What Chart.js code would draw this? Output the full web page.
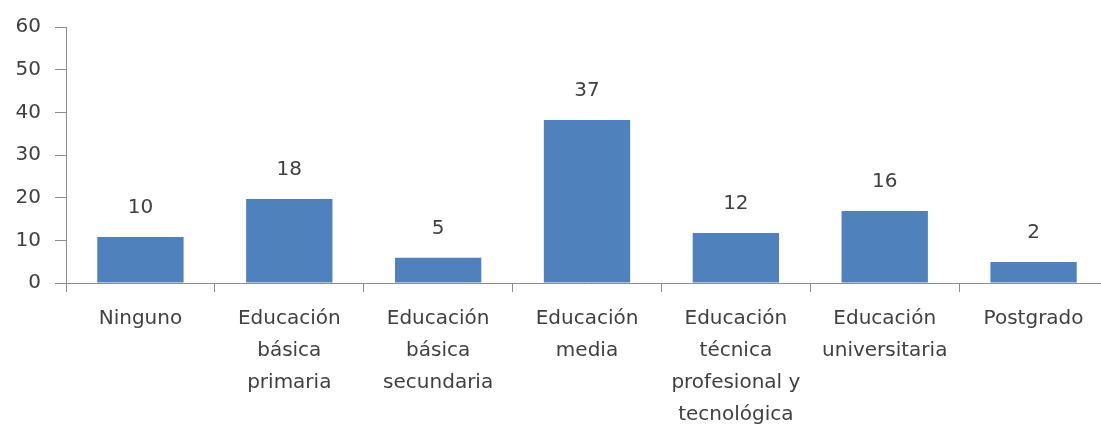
<!DOCTYPE html>
<html>
<head>
<meta charset="utf-8">
<script src="https://cdn.jsdelivr.net/npm/chart.js@4"></script>
<style>
  html, body { margin: 0; padding: 0; background: #fff; overflow: hidden; }
  #wrap { width: 1101px; height: 426px; overflow: hidden; position: relative; }
  #box { position: absolute; left: 0; top: 0; width: 1108px; height: 426px; }
</style>
</head>
<body>
<div id="wrap"><div id="box"><canvas id="chart"></canvas></div></div>
<script>
// categorías (nivel educativo), una línea por elemento
const categories = [
    ['Ninguno'],
    ['Educación', 'básica', 'primaria'],
    ['Educación', 'básica', 'secundaria'],
    ['Educación', 'media'],
    ['Educación', 'técnica', 'profesional y', 'tecnológica'],
    ['Educación', 'universitaria'],
    ['Postgrado']
];
// altura de las barras tal como se ven en la imagen
const barValues = [10.8, 19.7, 5.9, 38.2, 11.7, 16.9, 4.9];
// etiquetas escritas encima de cada barra
const labelValues = [10, 18, 5, 37, 12, 16, 2];
const yTicks = [0, 10, 20, 30, 40, 50, 60];

const textColor = '#404040';
const axisColor = '#8c8c8c';
const fontFamily = '"DejaVu Sans", sans-serif';

// dibuja las etiquetas de valor sobre las barras
const valueLabels = {
    id: 'valueLabels',
    afterDatasetsDraw(chart) {
        const ctx = chart.ctx;
        const meta = chart.getDatasetMeta(0);
        ctx.save();
        ctx.fillStyle = textColor;
        ctx.font = '20px ' + fontFamily;
        ctx.textAlign = 'center';
        ctx.textBaseline = 'middle';
        meta.data.forEach((bar, i) => {
            ctx.fillText(String(labelValues[i]), bar.x, bar.y - 29);
        });
        ctx.restore();
    }
};

new Chart(document.getElementById('chart'), {
    type: 'bar',
    data: {
        labels: categories,
        datasets: [{
            data: barValues,
            backgroundColor: '#4f81bd',
            borderWidth: 0,
            categoryPercentage: 1,
            barPercentage: 0.58
        }]
    },
    options: {
        responsive: true,
        maintainAspectRatio: false,
        animation: false,
        layout: { padding: { top: 27, left: 0, right: 0, bottom: 0 } },
        plugins: {
            legend: { display: false },
            tooltip: { enabled: false }
        },
        scales: {
            x: {
                offset: true,
                grid: {
                    offset: true,
                    drawOnChartArea: false,
                    drawTicks: true,
                    tickLength: 9,
                    color: axisColor
                },
                border: { color: axisColor, width: 1 },
                ticks: {
                    color: textColor,
                    font: { family: fontFamily, size: 20, lineHeight: 1.6 },
                    padding: 11,
                    maxRotation: 0,
                    autoSkip: false
                },
                afterFit(scale) { scale.height = 143; }
            },
            y: {
                min: 0,
                max: 60,
                afterBuildTicks(scale) {
                    scale.ticks = yTicks.map(v => ({ value: v }));
                },
                grid: {
                    drawOnChartArea: false,
                    drawTicks: true,
                    tickLength: 11,
                    color: axisColor
                },
                border: { color: axisColor, width: 1 },
                ticks: {
                    color: textColor,
                    font: { family: fontFamily, size: 20 },
                    padding: 14
                },
                afterFit(scale) { scale.width = 66; }
            }
        }
    },
    plugins: [valueLabels]
});
</script>
</body>
</html>
